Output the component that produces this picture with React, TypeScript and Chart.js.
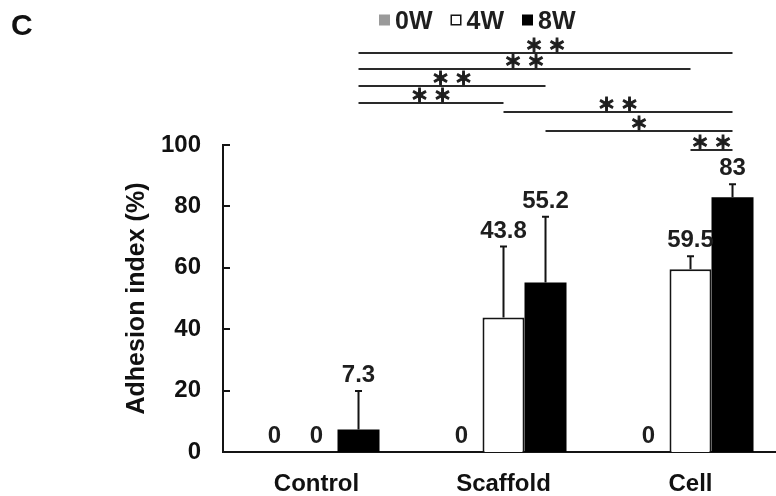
import React, { useEffect, useRef } from "react";
import { Chart, registerables } from "chart.js";

Chart.register(...registerables);

const categories = ["Control", "Scaffold", "Cell"];
const seriesLabels = ["0W", "4W", "8W"];
const values0W = [0, 0, 0];
const values4W = [0, 43.8, 59.5];
const values8W = [7.3, 55.2, 83];
const errors0W = [0, 0, 0];
const errors4W = [0, 23.1, 4.3];
const errors8W = [12.6, 21.4, 4.2];
const valueLabels0W = ["0", "0", "0"];
const valueLabels4W = ["0", "43.8", "59.5"];
const valueLabels8W = ["7.3", "55.2", "83"];
const yTicks = [0, 20, 40, 60, 80, 100];
const yTitle = "Adhesion index (%)";
const panelLabel = "C";
// significance comparisons: [category index, series index]
const sigFrom = [[0, 2], [0, 2], [0, 2], [0, 2], [1, 1], [1, 2], [2, 1]];
const sigTo = [[2, 2], [2, 1], [1, 2], [1, 1], [2, 2], [2, 2], [2, 2]];
const sigMarks = ["＊＊", "＊＊", "＊＊", "＊＊", "＊＊", "＊", "＊＊"];

const FONT = "'Liberation Sans', Arial, Helvetica, sans-serif";
const CJK = "'Noto Sans CJK JP', 'Noto Sans CJK SC', sans-serif";
const INK = "#141414";

const annotatePlugin = {
  id: "annotate",
  afterDatasetsDraw(chart: any) {
    const ctx = chart.ctx;
    const { left, top } = chart.chartArea;
    const ys = chart.scales.y;
    ctx.save();

    // inward y ticks
    ctx.strokeStyle = INK;
    ctx.lineWidth = 2;
    ys.ticks.forEach((t: any) => {
      const py = Math.round(ys.getPixelForValue(t.value));
      ctx.beginPath();
      ctx.moveTo(left, py);
      ctx.lineTo(left + 7, py);
      ctx.stroke();
    });

    // error bars and value labels
    chart.data.datasets.forEach((ds: any, di: number) => {
      const meta = chart.getDatasetMeta(di);
      meta.data.forEach((bar: any, i: number) => {
        const v = ds.data[i];
        const e = ds.errors[i];
        const x = bar.x;
        const yv = ys.getPixelForValue(v);
        const ye = ys.getPixelForValue(v + e);
        if (e > 0) {
          ctx.strokeStyle = INK;
          ctx.lineWidth = 2;
          ctx.beginPath();
          ctx.moveTo(x, yv);
          ctx.lineTo(x, ye);
          ctx.moveTo(x - 3.5, ye);
          ctx.lineTo(x + 3.5, ye);
          ctx.stroke();
        }
        ctx.fillStyle = "#1e1e1e";
        ctx.font = `bold 24px ${FONT}`;
        ctx.textAlign = "center";
        ctx.textBaseline = "alphabetic";
        ctx.fillText(ds.valueLabels[i], x, ye - 9);
      });
    });

    // significance lines
    const levels = [-92, -76, -59, -42, -33, -14, 5];
    sigFrom.forEach((from, k) => {
      const to = sigTo[k];
      const x1 = chart.getDatasetMeta(from[1]).data[from[0]].x;
      const x2 = chart.getDatasetMeta(to[1]).data[to[0]].x;
      const ly = top + levels[k];
      ctx.strokeStyle = "#2a2a2a";
      ctx.lineWidth = 2;
      ctx.beginPath();
      ctx.moveTo(x1, ly);
      ctx.lineTo(x2, ly);
      ctx.stroke();
      ctx.fillStyle = "#1e1e1e";
      ctx.strokeStyle = "#1e1e1e";
      ctx.lineWidth = 1.1;
      ctx.font = `900 18px ${CJK}`;
      (ctx as any).letterSpacing = "5px";
      ctx.textAlign = "center";
      ctx.textBaseline = "middle";
      const sx = (x1 + x2) / 2 + 2.5;
      const sy = ly - 8;
      ctx.fillText(sigMarks[k], sx, sy);
      ctx.strokeText(sigMarks[k], sx, sy);
      (ctx as any).letterSpacing = "0px";
    });

    // legend
    let lx = 379;
    const lyc = 20;
    chart.data.datasets.forEach((ds: any) => {
      ctx.fillStyle = ds.backgroundColor;
      ctx.fillRect(lx, lyc - 5.5, 11, 11);
      if (ds.borderWidth > 0) {
        ctx.strokeStyle = ds.borderColor;
        ctx.lineWidth = 1.5;
        ctx.strokeRect(lx + 0.75, lyc - 4.75, 9.5, 9.5);
      }
      ctx.fillStyle = "#1e1e1e";
      ctx.font = `bold 25px ${FONT}`;
      ctx.textAlign = "left";
      ctx.textBaseline = "middle";
      ctx.fillText(ds.label, lx + 16, lyc + 2);
      lx += 16 + ctx.measureText(ds.label).width + 18;
    });

    // panel letter
    ctx.fillStyle = "#111";
    ctx.font = `bold 30px ${FONT}`;
    ctx.textAlign = "left";
    ctx.textBaseline = "middle";
    ctx.fillText(panelLabel, 11, 27);

    ctx.restore();
  },
};

export default function App() {
  const ref = useRef<HTMLCanvasElement | null>(null);

  useEffect(() => {
    if (!ref.current) return;
    const chart = new Chart(ref.current, {
      type: "bar",
      data: {
        labels: categories,
        datasets: [
          { label: seriesLabels[0], data: values0W, errors: errors0W, valueLabels: valueLabels0W, backgroundColor: "#9a9a9a", borderColor: "#9a9a9a", borderWidth: 0 },
          { label: seriesLabels[1], data: values4W, errors: errors4W, valueLabels: valueLabels4W, backgroundColor: "#ffffff", borderColor: INK, borderWidth: 2 },
          { label: seriesLabels[2], data: values8W, errors: errors8W, valueLabels: valueLabels8W, backgroundColor: "#000000", borderColor: "#000000", borderWidth: 0 },
        ] as any,
      },
      options: {
        responsive: false,
        animation: false,
        layout: { padding: { left: 122, top: 145, right: 6, bottom: 4 } },
        datasets: { bar: { categoryPercentage: 0.674, barPercentage: 1.0 } },
        plugins: { legend: { display: false }, tooltip: { enabled: false } },
        scales: {
          x: {
            grid: { display: false, drawTicks: false },
            border: { display: true, color: INK, width: 2 },
            ticks: { color: "#111", padding: 18, font: { family: FONT, size: 24, weight: "bold" } },
            afterFit: (s: any) => { s.height = 40; },
          },
          y: {
            min: 0,
            max: 100,
            grid: { display: false, drawTicks: false },
            border: { display: true, color: INK, width: 2 },
            afterBuildTicks: (s: any) => { s.ticks = yTicks.map((v) => ({ value: v })); },
            ticks: { color: "#111", padding: 22, font: { family: FONT, size: 24, weight: "bold" } },
            title: { display: true, text: yTitle, color: "#111", padding: 0, font: { family: FONT, size: 25, weight: "bold" } },
            afterFit: (s: any) => { s.width = 101; },
          },
        },
      },
      plugins: [annotatePlugin],
    } as any);
    return () => chart.destroy();
  }, []);

  return (
    <div style={{ position: "fixed", left: 0, top: 0, width: 776, height: 496, overflow: "hidden", background: "#ffffff" }}>
      <canvas ref={ref} width={790} height={496} style={{ display: "block" }} />
    </div>
  );
}
